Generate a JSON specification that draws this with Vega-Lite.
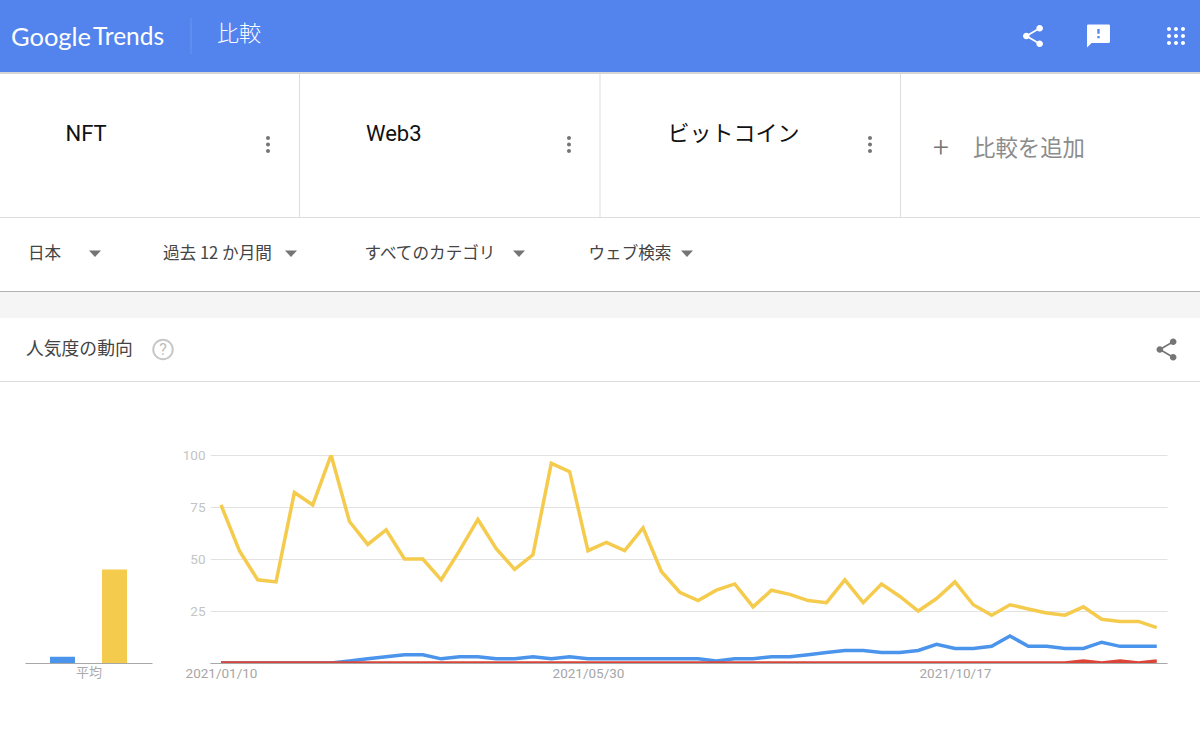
{
"$schema":"https://vega.github.io/schema/vega-lite/v6.json",
"padding":0,
"background":"#ffffff",
"bounds":"flush",
"spacing":0,
"config":{"view":{"stroke":null},"concat":{"spacing":0},"text":{"font":"Noto Sans CJK JP"}},
"vconcat":[
{"width":1200,"height":72,"view":{"fill":"#5384ED","stroke":null},
 "encoding":{"x":{"field":"slot","type":"quantitative","axis":null,"scale":{"domain":[0,1,2,3,4,5,6],"range":[11,93,191,217,1033,1098.5,1176],"nice":false,"zero":false}}},
 "layer":[
  {"data":{"values":[{"label":"divider","slot":2}]},"mark":{"type":"rule","stroke":"#6b96F0","strokeWidth":1},"encoding":{"y":{"value":18},"y2":{"value":54}}},
  {"data":{"values":[{"label":"Google","slot":0}]},"mark":{"type":"text","align":"left","font":"Lato","fontSize":25.5,"fill":"#ffffff","dy":2},"encoding":{"text":{"field":"label"}}},
  {"data":{"values":[{"label":"Trends","slot":1}]},"mark":{"type":"text","align":"left","font":"Lato","fontSize":24.5,"fontWeight":400,"fill":"#ffffff","dy":2},"encoding":{"text":{"field":"label"}}},
  {"data":{"values":[{"label":"比較","slot":3}]},"mark":{"type":"text","align":"left","fontSize":22,"fontWeight":300,"fill":"#ffffff","dy":-2},"encoding":{"text":{"field":"label"}}},
  {"data":{"values":[{"label":"share","slot":4}]},"mark":{"type":"point","filled":true,"opacity":1,"fill":"#ffffff","size":711,"strokeWidth":0,"shape":"M -0.75 0 A 0.25 0.25 0 1 1 -0.25 0 A 0.25 0.25 0 1 1 -0.75 0 Z M 0.25 -0.58 A 0.25 0.25 0 1 1 0.75 -0.58 A 0.25 0.25 0 1 1 0.25 -0.58 Z M 0.25 0.58 A 0.25 0.25 0 1 1 0.75 0.58 A 0.25 0.25 0 1 1 0.25 0.58 Z M -0.5 -0.07 L 0.5 -0.65 L 0.5 -0.51 L -0.5 0.07 Z M -0.5 -0.07 L 0.5 0.51 L 0.5 0.65 L -0.5 0.07 Z"}},
  {"data":{"values":[{"label":"feedback","slot":5}]},"mark":{"type":"point","filled":true,"opacity":1,"fill":"#ffffff","size":762,"strokeWidth":0,"shape":"M 0.75 -0.83 L -0.75 -0.83 Q -0.83 -0.83 -0.83 -0.75 L -0.83 0.83 L -0.5 0.5 L 0.75 0.5 Q 0.83 0.5 0.83 0.42 L 0.83 -0.75 Q 0.83 -0.83 0.75 -0.83 Z M 0.083 0.167 L -0.083 0.167 L -0.083 0 L 0.083 0 Z M 0.083 -0.167 L -0.083 -0.167 L -0.083 -0.5 L 0.083 -0.5 Z"}},
  {"data":{"values":[{"label":"apps","slot":6}]},"mark":{"type":"point","filled":true,"opacity":1,"fill":"#ffffff","size":1600,"strokeWidth":0,"shape":"M -0.45 -0.35 A 0.1 0.1 0 1 1 -0.25 -0.35 A 0.1 0.1 0 1 1 -0.45 -0.35 Z M -0.1 -0.35 A 0.1 0.1 0 1 1 0.1 -0.35 A 0.1 0.1 0 1 1 -0.1 -0.35 Z M 0.25 -0.35 A 0.1 0.1 0 1 1 0.45 -0.35 A 0.1 0.1 0 1 1 0.25 -0.35 Z M -0.45 0 A 0.1 0.1 0 1 1 -0.25 0 A 0.1 0.1 0 1 1 -0.45 0 Z M -0.1 0 A 0.1 0.1 0 1 1 0.1 0 A 0.1 0.1 0 1 1 -0.1 0 Z M 0.25 0 A 0.1 0.1 0 1 1 0.45 0 A 0.1 0.1 0 1 1 0.25 0 Z M -0.45 0.35 A 0.1 0.1 0 1 1 -0.25 0.35 A 0.1 0.1 0 1 1 -0.45 0.35 Z M -0.1 0.35 A 0.1 0.1 0 1 1 0.1 0.35 A 0.1 0.1 0 1 1 -0.1 0.35 Z M 0.25 0.35 A 0.1 0.1 0 1 1 0.45 0.35 A 0.1 0.1 0 1 1 0.25 0.35 Z"}}
 ]},
{"width":1200,"height":2,"view":{"fill":"#d6d6d6","stroke":null},"data":{"values":[{}]},"mark":{"type":"point","opacity":0},"encoding":{}},
{"width":1200,"height":143,
 "encoding":{
  "x":{"field":"slot","type":"quantitative","axis":null,"scale":{"domain":[0,1,2,3,4,5,6,7,8,9,10],"range":[65.5,268,299.5,366,569,600,667.5,870,900.5,941,973],"nice":false,"zero":false}},
  "y":{"field":"row","type":"quantitative","axis":null,"scale":{"domain":[0,1,2,3],"range":[60,60,70.5,75],"nice":false,"zero":false}}
 },
 "layer":[
  {"data":{"values":[{"label":"sep1","slot":2},{"label":"sep2","slot":5},{"label":"sep3","slot":8}]},"mark":{"type":"rule","stroke":"#dddddd","strokeWidth":1},"encoding":{"y":{"value":0},"y2":{"value":143}}},
  {"data":{"values":[{"label":"NFT","slot":0,"row":1},{"label":"Web3","slot":3,"row":1}]},"mark":{"type":"text","align":"left","font":"Roboto","fontSize":22,"fill":"#111111"},"encoding":{"text":{"field":"label"}}},
  {"data":{"values":[{"label":"ビットコイン","slot":6,"row":0}]},"mark":{"type":"text","align":"left","fontSize":22,"fill":"#111111"},"encoding":{"text":{"field":"label"}}},
  {"data":{"values":[{"label":"比較を追加","slot":10,"row":3}]},"mark":{"type":"text","align":"left","fontSize":22.4,"fill":"#8c8c8c"},"encoding":{"text":{"field":"label"}}},
  {"data":{"values":[{"label":"+","slot":9,"row":3}]},"mark":{"type":"text","align":"center","font":"Roboto","fontSize":28,"fontWeight":300,"fill":"#757575"},"encoding":{"text":{"field":"label"}}},
  {"data":{"values":[{"label":"menu1","slot":1,"row":2},{"label":"menu2","slot":4,"row":2},{"label":"menu3","slot":7,"row":2}]},"mark":{"type":"point","filled":true,"opacity":1,"fill":"#757575","size":1600,"strokeWidth":0,"shape":"M -0.1 -0.33 A 0.1 0.1 0 1 1 0.1 -0.33 A 0.1 0.1 0 1 1 -0.1 -0.33 Z M -0.1 0 A 0.1 0.1 0 1 1 0.1 0 A 0.1 0.1 0 1 1 -0.1 0 Z M -0.1 0.33 A 0.1 0.1 0 1 1 0.1 0.33 A 0.1 0.1 0 1 1 -0.1 0.33 Z"}}
 ]},
{"width":1200,"height":1,"view":{"fill":"#dddddd","stroke":null},"data":{"values":[{}]},"mark":{"type":"point","opacity":0},"encoding":{}},
{"width":1200,"height":73,
 "encoding":{"x":{"field":"slot","type":"quantitative","axis":null,"scale":{"domain":[0,1,2,3,4,5,6,7],"range":[28,95,163,291,364.5,519,588.5,687],"nice":false,"zero":false}}},
 "layer":[
  {"data":{"values":[{"label":"日本","slot":0},{"label":"過去 12 か月間","slot":2},{"label":"すべてのカテゴリ","slot":4},{"label":"ウェブ検索","slot":6}]},"mark":{"type":"text","align":"left","fontSize":16.6,"fill":"#444444","dy":-0.5},"encoding":{"text":{"field":"label"}}},
  {"data":{"values":[{"label":"v1","slot":1},{"label":"v2","slot":3},{"label":"v3","slot":5},{"label":"v4","slot":7}]},"mark":{"type":"point","filled":true,"opacity":1,"fill":"#757575","size":144,"strokeWidth":0,"shape":"M -1 -0.65 L 1 -0.65 L 0 0.4 Z"}}
 ]},
{"width":1200,"height":1,"view":{"fill":"#b4b4b4","stroke":null},"data":{"values":[{}]},"mark":{"type":"point","opacity":0},"encoding":{}},
{"width":1200,"height":26,"view":{"fill":"#f5f5f5","stroke":null},"data":{"values":[{}]},"mark":{"type":"point","opacity":0},"encoding":{}},
{"width":1200,"height":63,
 "encoding":{"x":{"field":"slot","type":"quantitative","axis":null,"scale":{"domain":[0,1,2],"range":[26,163,1166.5],"nice":false,"zero":false}}},
 "layer":[
  {"data":{"values":[{"label":"人気度の動向","slot":0}]},"mark":{"type":"text","align":"left","fontSize":17.8,"fill":"#444444"},"encoding":{"text":{"field":"label"}}},
  {"data":{"values":[{"label":"?","slot":1}]},"mark":{"type":"point","filled":false,"opacity":1,"stroke":"#c8c8c8","strokeWidth":2,"size":380,"shape":"circle"}},
  {"data":{"values":[{"label":"?","slot":1}]},"mark":{"type":"text","align":"center","font":"Roboto","fontSize":16,"fill":"#bdbdbd"},"encoding":{"text":{"field":"label"}}},
  {"data":{"values":[{"label":"share","slot":2}]},"mark":{"type":"point","filled":true,"opacity":1,"fill":"#757575","size":711,"strokeWidth":0,"shape":"M -0.75 0 A 0.25 0.25 0 1 1 -0.25 0 A 0.25 0.25 0 1 1 -0.75 0 Z M 0.25 -0.58 A 0.25 0.25 0 1 1 0.75 -0.58 A 0.25 0.25 0 1 1 0.25 -0.58 Z M 0.25 0.58 A 0.25 0.25 0 1 1 0.75 0.58 A 0.25 0.25 0 1 1 0.25 0.58 Z M -0.5 -0.07 L 0.5 -0.65 L 0.5 -0.51 L -0.5 0.07 Z M -0.5 -0.07 L 0.5 0.51 L 0.5 0.65 L -0.5 0.07 Z"}}
 ]},
{"width":1200,"height":1,"view":{"fill":"#dddddd","stroke":null},"data":{"values":[{}]},"mark":{"type":"point","opacity":0},"encoding":{}},
{"width":1200,"height":73,"data":{"values":[{}]},"mark":{"type":"point","opacity":0},"encoding":{}},
{"bounds":"flush","spacing":58,
 "hconcat":[
 {"width":152,"height":208,
  "data":{"values":[{"series":"NFT","avg":3},{"series":"Web3","avg":0},{"series":"ビットコイン","avg":45}]},
  "mark":{"type":"bar"},
  "encoding":{
   "x":{"field":"series","type":"nominal","sort":null,"scale":{"type":"band","range":[25,152],"paddingInner":0.04,"paddingOuter":0.96},
    "axis":{"title":"平均","labels":false,"ticks":false,"domainColor":"#a8a8a8","domainWidth":1,"titleFont":"Noto Sans CJK JP","titleFontSize":13,"titleFontWeight":"normal","titleColor":"#aaaaaa","titlePadding":3}},
   "y":{"field":"avg","type":"quantitative","scale":{"domain":[0,100]},"axis":null},
   "color":{"field":"series","type":"nominal","legend":null,"scale":{"domain":["NFT","Web3","ビットコイン"],"range":["#4A94EC","#DB4437","#F5CB4E"]}}
  }},
 {"width":957,"height":208,
  "data":{"values":[
{"date":"2021/01/10","NFT":0,"Web3":0,"ビットコイン":76},
{"date":"2021/01/17","NFT":0,"Web3":0,"ビットコイン":54},
{"date":"2021/01/24","NFT":0,"Web3":0,"ビットコイン":40},
{"date":"2021/01/31","NFT":0,"Web3":0,"ビットコイン":39},
{"date":"2021/02/07","NFT":0,"Web3":0,"ビットコイン":82},
{"date":"2021/02/14","NFT":0,"Web3":0,"ビットコイン":76},
{"date":"2021/02/21","NFT":0,"Web3":0,"ビットコイン":100},
{"date":"2021/02/28","NFT":1,"Web3":0,"ビットコイン":68},
{"date":"2021/03/07","NFT":2,"Web3":0,"ビットコイン":57},
{"date":"2021/03/14","NFT":3,"Web3":0,"ビットコイン":64},
{"date":"2021/03/21","NFT":4,"Web3":0,"ビットコイン":50},
{"date":"2021/03/28","NFT":4,"Web3":0,"ビットコイン":50},
{"date":"2021/04/04","NFT":2,"Web3":0,"ビットコイン":40},
{"date":"2021/04/11","NFT":3,"Web3":0,"ビットコイン":54},
{"date":"2021/04/18","NFT":3,"Web3":0,"ビットコイン":69},
{"date":"2021/04/25","NFT":2,"Web3":0,"ビットコイン":55},
{"date":"2021/05/02","NFT":2,"Web3":0,"ビットコイン":45},
{"date":"2021/05/09","NFT":3,"Web3":0,"ビットコイン":52},
{"date":"2021/05/16","NFT":2,"Web3":0,"ビットコイン":96},
{"date":"2021/05/23","NFT":3,"Web3":0,"ビットコイン":92},
{"date":"2021/05/30","NFT":2,"Web3":0,"ビットコイン":54},
{"date":"2021/06/06","NFT":2,"Web3":0,"ビットコイン":58},
{"date":"2021/06/13","NFT":2,"Web3":0,"ビットコイン":54},
{"date":"2021/06/20","NFT":2,"Web3":0,"ビットコイン":65},
{"date":"2021/06/27","NFT":2,"Web3":0,"ビットコイン":44},
{"date":"2021/07/04","NFT":2,"Web3":0,"ビットコイン":34},
{"date":"2021/07/11","NFT":2,"Web3":0,"ビットコイン":30},
{"date":"2021/07/18","NFT":1,"Web3":0,"ビットコイン":35},
{"date":"2021/07/25","NFT":2,"Web3":0,"ビットコイン":38},
{"date":"2021/08/01","NFT":2,"Web3":0,"ビットコイン":27},
{"date":"2021/08/08","NFT":3,"Web3":0,"ビットコイン":35},
{"date":"2021/08/15","NFT":3,"Web3":0,"ビットコイン":33},
{"date":"2021/08/22","NFT":4,"Web3":0,"ビットコイン":30},
{"date":"2021/08/29","NFT":5,"Web3":0,"ビットコイン":29},
{"date":"2021/09/05","NFT":6,"Web3":0,"ビットコイン":40},
{"date":"2021/09/12","NFT":6,"Web3":0,"ビットコイン":29},
{"date":"2021/09/19","NFT":5,"Web3":0,"ビットコイン":38},
{"date":"2021/09/26","NFT":5,"Web3":0,"ビットコイン":32},
{"date":"2021/10/03","NFT":6,"Web3":0,"ビットコイン":25},
{"date":"2021/10/10","NFT":9,"Web3":0,"ビットコイン":31},
{"date":"2021/10/17","NFT":7,"Web3":0,"ビットコイン":39},
{"date":"2021/10/24","NFT":7,"Web3":0,"ビットコイン":28},
{"date":"2021/10/31","NFT":8,"Web3":0,"ビットコイン":23},
{"date":"2021/11/07","NFT":13,"Web3":0,"ビットコイン":28},
{"date":"2021/11/14","NFT":8,"Web3":0,"ビットコイン":26},
{"date":"2021/11/21","NFT":8,"Web3":0,"ビットコイン":24},
{"date":"2021/11/28","NFT":7,"Web3":0,"ビットコイン":23},
{"date":"2021/12/05","NFT":7,"Web3":1,"ビットコイン":27},
{"date":"2021/12/12","NFT":10,"Web3":0,"ビットコイン":21},
{"date":"2021/12/19","NFT":8,"Web3":1,"ビットコイン":20},
{"date":"2021/12/26","NFT":8,"Web3":0,"ビットコイン":20},
{"date":"2022/01/02","NFT":8,"Web3":1,"ビットコイン":17}
  ]},
  "transform":[{"fold":["NFT","Web3","ビットコイン"],"as":["series","interest"]}],
  "mark":{"type":"line","strokeWidth":3.5,"clip":true,"strokeJoin":"miter","strokeCap":"butt"},
  "encoding":{
   "x":{"field":"date","type":"temporal",
    "scale":{"domain":[{"year":2021,"month":1,"date":5,"hours":19,"minutes":12},{"year":2022,"month":1,"date":5,"hours":21,"minutes":36}]},
    "axis":{"title":null,"values":[{"year":2021,"month":1,"date":10},{"year":2021,"month":5,"date":30},{"year":2021,"month":10,"date":17}],"format":"%Y/%m/%d","grid":false,"ticks":false,"domainColor":"#a8a8a8","domainWidth":1,"labelFont":"Roboto","labelFontSize":13.5,"labelColor":"#a6a6a6","labelPadding":3,"labelOverlap":false,"labelFlush":false}},
   "y":{"field":"interest","type":"quantitative","scale":{"domain":[0,100]},
    "axis":{"title":null,"values":[0,25,50,75,100],"labelExpr":"datum.value==0?'':datum.label","domain":false,"ticks":false,"grid":true,"gridColor":"#e2e2e2","gridWidth":1,"labelFont":"Roboto","labelFontSize":13.5,"labelColor":"#c4c4c4","labelPadding":5}},
   "color":{"field":"series","type":"nominal","legend":null,"scale":{"domain":["NFT","Web3","ビットコイン"],"range":["#4A94EC","#DB4437","#F5CB4E"]}}
  }}
 ]}
]
}
